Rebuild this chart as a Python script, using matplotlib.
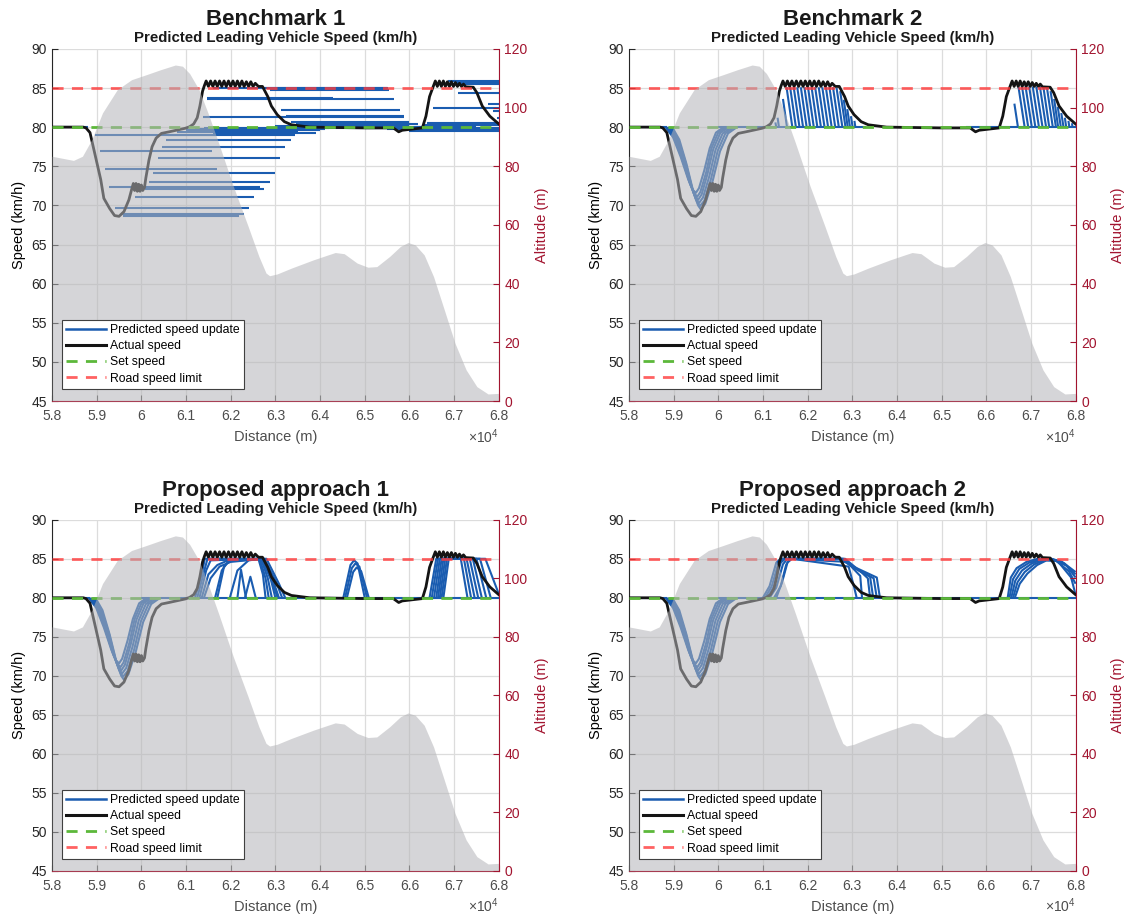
import matplotlib.pyplot as plt
from matplotlib.lines import Line2D

plt.rcParams['font.family'] = ['Liberation Sans', 'DejaVu Sans']
plt.rcParams['mathtext.default'] = 'regular'

# distance is in units of 10^4 m (axis shows x10^4)
alt_x = [5.800, 5.848, 5.868, 5.889, 5.913, 5.946, 5.978, 6.011, 6.043, 6.076, 6.092,
         6.108, 6.129, 6.149, 6.173, 6.206, 6.239, 6.263, 6.279, 6.287, 6.304, 6.336,
         6.385, 6.418, 6.434, 6.454, 6.483, 6.507, 6.527, 6.556, 6.580, 6.597, 6.613,
         6.633, 6.654, 6.678, 6.702, 6.727, 6.751, 6.776, 6.800]
alt_h = [83.4, 82.0, 83.4, 89.1, 98.2, 106.1, 109.5, 111.2, 112.9, 114.5, 114.1,
         111.6, 106.1, 98.2, 87.9, 73.1, 59.5, 49.3, 43.6, 42.7, 43.3, 45.3,
         48.1, 49.8, 50.6, 50.2, 47.0, 45.6, 45.8, 49.3, 52.7, 54.0, 53.2,
         49.8, 42.4, 31.1, 19.7, 10.6, 4.9, 2.4, 2.6]

act_x = [5.800, 5.870, 5.876, 5.885, 5.897, 5.909, 5.916, 5.922, 5.929, 5.940, 5.950, 5.961, 5.972, 5.979,
         5.982, 5.985, 5.988, 5.991, 5.994, 5.997, 6.000, 6.003, 6.007, 6.010, 6.017, 6.024, 6.033,
         6.045, 6.062, 6.098, 6.108, 6.117, 6.125, 6.131, 6.137, 6.141,
         6.145, 6.150, 6.155, 6.160, 6.165, 6.170, 6.175, 6.180, 6.185, 6.190, 6.195, 6.200,
         6.205, 6.210, 6.215, 6.220, 6.225, 6.230, 6.235, 6.240, 6.245, 6.250, 6.255, 6.262,
         6.271, 6.283, 6.291, 6.304, 6.320, 6.336, 6.377, 6.499, 6.564, 6.576, 6.584, 6.629,
         6.637, 6.645, 6.654,
         6.658, 6.6625, 6.667, 6.6715, 6.676, 6.6805, 6.685, 6.6895, 6.694, 6.6985, 6.703,
         6.7075, 6.712, 6.7165, 6.721, 6.726,
         6.743, 6.751, 6.763, 6.780, 6.800]
act_v = [80.0, 80.0, 79.9, 79.3, 76.3, 73.3, 70.9, 70.3, 69.6, 68.7, 68.6, 69.2, 70.7, 72.2,
         72.8, 71.9, 72.8, 71.8, 72.7, 71.8, 72.6, 71.9, 72.3, 73.5, 75.8, 77.5, 78.6,
         79.2, 79.4, 79.85, 80.05, 80.4, 81.2, 82.7, 84.6, 85.3,
         85.9, 85.2, 85.9, 85.2, 85.9, 85.2, 85.9, 85.2, 85.9, 85.2, 85.9, 85.2,
         85.9, 85.2, 85.9, 85.2, 85.9, 85.2, 85.8, 85.2, 85.8, 85.2, 85.6, 85.2,
         85.2, 83.9, 82.7, 81.6, 80.7, 80.3, 80.0, 79.9, 79.9, 79.4, 79.6, 79.9,
         81.4, 83.9, 85.3,
         85.9, 85.2, 85.9, 85.2, 85.9, 85.2, 85.8, 85.2, 85.8, 85.2, 85.7,
         85.2, 85.6, 85.2, 85.5, 85.15,
         85.1, 84.4, 82.7, 81.4, 80.4]

set_speed = 80
speed_limit = 85

xticks = [5.8, 5.9, 6.0, 6.1, 6.2, 6.3, 6.4, 6.5, 6.6, 6.7, 6.8]
yticks = [45, 50, 55, 60, 65, 70, 75, 80, 85, 90]
alt_ticks = [0, 20, 40, 60, 80, 100, 120]

titles = ['Benchmark 1', 'Benchmark 2', 'Proposed approach 1', 'Proposed approach 2']
subtitle = 'Predicted Leading Vehicle Speed (km/h)'

# Benchmark 1: constant-speed predictions (start, end, speed)
b1_start = [5.800, 5.897, 5.907, 5.919, 5.928, 5.942, 5.955, 5.958, 5.986, 6.007, 6.017,
            6.025, 6.037, 6.047, 6.055, 6.060, 6.080, 6.100, 6.120, 6.140, 6.160, 6.137,
            6.324, 6.312, 6.147, 6.147, 6.288, 6.160, 6.265, 6.336, 6.345, 6.300, 6.350,
            6.400, 6.450, 6.500, 6.550, 6.600, 6.630, 6.640, 6.655, 6.686, 6.700, 6.708,
            6.653, 6.776, 6.788, 6.796]
b1_end = [5.880, 6.169, 6.157, 6.169, 6.265, 6.240, 6.229, 6.218, 6.252, 6.275, 6.288,
          6.300, 6.311, 6.322, 6.334, 6.344, 6.350, 6.400, 6.410, 6.420, 6.390, 6.588,
          6.588, 6.578, 6.566, 6.430, 6.554, 6.550, 6.552, 6.600, 6.620, 6.600, 6.650,
          6.700, 6.750, 6.800, 6.800, 6.800, 6.800, 6.800, 6.800, 6.800, 6.800, 6.800,
          6.800, 6.800, 6.800, 6.800]
b1_speed = [80.0, 78.95, 76.95, 74.7, 72.4, 69.7, 68.9, 68.6, 71.1, 72.1, 73.0,
            74.2, 76.1, 77.5, 78.4, 79.0, 79.4, 79.6, 79.8, 79.95, 79.3, 81.25,
            81.45, 82.2, 83.6, 83.75, 84.8, 85.05, 84.95, 80.7, 80.45, 80.1, 80.0,
            79.9, 80.05, 79.95, 79.7, 79.45, 80.3, 80.5, 85.5, 85.9, 85.7, 84.3,
            82.5, 82.9, 82.1, 81.2]

# predicted dips around 5.9-6.0 (Benchmark 2 and both proposed approaches)
dip_curves = [
    ([5.882, 5.899, 5.916, 5.933, 5.943, 5.950, 5.957, 5.969, 5.981, 5.995, 6.012],
     [80, 78.7, 76.2, 73.3, 72.0, 71.6, 72.2, 74.5, 77.3, 79.3, 80]),
    ([5.885, 5.902, 5.919, 5.936, 5.946, 5.953, 5.960, 5.973, 5.985, 6.000, 6.018],
     [80, 78.7, 76.0, 72.9, 71.6, 71.1, 71.7, 74.2, 77.3, 79.3, 80]),
    ([5.888, 5.905, 5.922, 5.938, 5.948, 5.955, 5.963, 5.976, 5.989, 6.005, 6.024],
     [80, 78.6, 75.8, 72.6, 71.2, 70.7, 71.4, 74.0, 77.2, 79.3, 80]),
    ([5.891, 5.908, 5.924, 5.941, 5.950, 5.957, 5.966, 5.980, 5.994, 6.010, 6.030],
     [80, 78.5, 75.6, 72.3, 70.8, 70.3, 71.0, 73.7, 77.1, 79.2, 80]),
    ([5.894, 5.910, 5.927, 5.943, 5.953, 5.959, 5.969, 5.984, 5.999, 6.016, 6.036],
     [80, 78.5, 75.5, 71.9, 70.4, 69.9, 70.6, 73.4, 77.0, 79.2, 80]),
    ([5.897, 5.913, 5.929, 5.945, 5.955, 5.961, 5.971, 5.988, 6.004, 6.022, 6.042],
     [80, 78.4, 75.3, 71.6, 70.0, 69.5, 70.2, 73.2, 76.9, 79.2, 80]),
]

# Benchmark 2: slanted predictions back to set speed (x0, v0) -> (x1, 80)
b2_x0 = [6.128, 6.133, 6.145, 6.153, 6.161, 6.169, 6.177, 6.185, 6.193, 6.201, 6.209,
         6.217, 6.225, 6.233, 6.241, 6.249, 6.257, 6.265, 6.273, 6.281, 6.289, 6.297, 6.305,
         6.663, 6.672, 6.680, 6.688, 6.696, 6.704, 6.712, 6.720, 6.728, 6.736, 6.744,
         6.752, 6.760, 6.768, 6.776, 6.784, 6.792]
b2_v0 = [80.6, 81.2, 83.6, 85.1, 85.1, 85.1, 85.1, 85.1, 85.1, 85.1, 85.1,
         85.1, 85.1, 85.1, 85.1, 85.1, 85.1, 85.0, 84.6, 83.5, 82.3, 81.4, 80.8,
         83.0, 85.2, 85.2, 85.2, 85.2, 85.2, 85.2, 85.2, 85.1, 85.0, 84.6,
         83.6, 82.6, 81.8, 81.2, 80.8, 80.5]
b2_x1 = [6.130, 6.136, 6.154, 6.166, 6.174, 6.182, 6.190, 6.198, 6.206, 6.214, 6.222,
         6.230, 6.238, 6.246, 6.254, 6.262, 6.270, 6.278, 6.285, 6.290, 6.295, 6.301, 6.307,
         6.671, 6.686, 6.694, 6.702, 6.710, 6.718, 6.726, 6.734, 6.741, 6.749, 6.756,
         6.761, 6.767, 6.773, 6.779, 6.786, 6.793]
b2_flat = [(5.800, 5.885), (6.000, 6.330), (6.555, 6.800)]

p1_curves = [
    ([6.120, 6.135, 6.142, 6.262, 6.272, 6.278], [80, 83.0, 85.0, 85.0, 83.0, 80]),
    ([6.125, 6.140, 6.148, 6.265, 6.278, 6.285], [80, 83.3, 85.0, 85.0, 82.5, 80]),
    ([6.130, 6.145, 6.155, 6.268, 6.283, 6.292], [80, 83.5, 84.8, 85.0, 82.5, 80]),
    ([6.135, 6.150, 6.170, 6.190, 6.270, 6.290, 6.300], [80, 83.0, 84.2, 84.7, 85.0, 82.3, 80]),
    ([6.140, 6.155, 6.175, 6.200, 6.272, 6.296, 6.308], [80, 82.5, 84.0, 84.6, 85.0, 82.0, 80]),
    ([6.165, 6.180, 6.195, 6.275, 6.302, 6.315], [80, 83.5, 84.7, 85.0, 82.0, 80]),
    ([6.170, 6.185, 6.200, 6.280, 6.308, 6.322], [80, 84.0, 84.9, 85.0, 81.8, 80]),
    ([6.198, 6.215, 6.240, 6.270, 6.290, 6.305], [80, 83.5, 84.8, 85.0, 82.5, 80]),
    ([6.215, 6.223, 6.234], [80, 83.6, 80]),
    ([6.232, 6.244, 6.256], [80, 82.7, 80]),
    ([6.452, 6.468, 6.476, 6.484, 6.500], [80, 84.2, 84.8, 84.4, 80]),
    ([6.456, 6.471, 6.479, 6.488, 6.505], [80, 83.8, 84.4, 84.0, 80]),
    ([6.460, 6.474, 6.482, 6.492, 6.509], [80, 83.3, 83.9, 83.4, 80]),
    ([6.645, 6.660, 6.715, 6.730], [80, 85, 85, 80]),
    ([6.650, 6.664, 6.722, 6.738], [80, 85, 85, 80]),
    ([6.655, 6.668, 6.728, 6.746], [80, 85, 85, 80]),
    ([6.660, 6.672, 6.735, 6.754], [80, 85, 85, 80]),
    ([6.664, 6.676, 6.742, 6.762], [80, 85, 85, 80]),
    ([6.668, 6.680, 6.750, 6.772], [80, 85, 85, 80]),
    ([6.672, 6.684, 6.758, 6.782], [80, 85, 85, 80]),
    ([6.676, 6.688, 6.770, 6.800], [80, 85, 85, 80.5]),
]
p1_flat = [(5.800, 5.885), (6.000, 6.800)]

p2_curves = [
    ([6.100, 6.115, 6.130, 6.140, 6.272, 6.295, 6.355, 6.362], [80, 81.5, 84.5, 85, 85, 84.2, 82.6, 80]),
    ([6.105, 6.120, 6.135, 6.145, 6.276, 6.300, 6.348, 6.355], [80, 81.5, 84.5, 85, 85, 84.0, 82.5, 80]),
    ([6.110, 6.125, 6.140, 6.150, 6.280, 6.305, 6.340, 6.347], [80, 81.5, 84.5, 85, 85, 83.8, 82.7, 80]),
    ([6.115, 6.130, 6.145, 6.155, 6.284, 6.322, 6.335, 6.340], [80, 81.3, 84.3, 85, 85, 83.2, 82.5, 80]),
    ([6.125, 6.140, 6.152, 6.160, 6.288, 6.318, 6.322], [80, 81.5, 84.2, 85, 84.6, 82.8, 80]),
    ([6.130, 6.143, 6.155, 6.165, 6.292, 6.305, 6.310], [80, 82.0, 84.5, 85, 84.0, 81.2, 80]),
    ([6.648, 6.655, 6.668, 6.690, 6.715, 6.740, 6.770, 6.800], [80, 82.6, 83.8, 84.6, 85.0, 85.1, 84.6, 83.3]),
    ([6.652, 6.660, 6.674, 6.696, 6.720, 6.745, 6.775, 6.800], [80, 82.4, 83.7, 84.5, 84.9, 85.0, 84.4, 83.0]),
    ([6.656, 6.665, 6.680, 6.702, 6.726, 6.750, 6.780, 6.800], [80, 82.2, 83.5, 84.4, 84.9, 84.9, 84.1, 82.6]),
    ([6.660, 6.670, 6.686, 6.708, 6.730, 6.755, 6.785, 6.800], [80, 82.0, 83.3, 84.3, 84.8, 84.8, 83.4, 81.8]),
    ([6.664, 6.675, 6.692, 6.714, 6.735, 6.760, 6.790, 6.800], [80, 81.8, 83.1, 84.2, 84.8, 84.7, 82.6, 80.4]),
]
p2_flat = [(5.800, 5.885), (6.000, 6.800)]

blue = '#1a5cb0'
green = '#5cb83a'
red_line = '#ff3b3b'
dark_red = '#a2142f'
txt = '#262626'
xtxt = '#4d4d4d'


def pred(ax, x, y):
    ax.plot(x, y, color=blue, lw=1.5, zorder=2, solid_capstyle='butt')


def draw_b1(ax):
    ax.hlines(b1_speed, b1_start, b1_end, colors=blue, lw=1.5, zorder=2)


def draw_b2(ax):
    for x, y in dip_curves:
        pred(ax, x, y)
    for x0, v0, x1 in zip(b2_x0, b2_v0, b2_x1):
        pred(ax, [x0, x1], [v0, set_speed])
    for s, e in b2_flat:
        pred(ax, [s, e], [set_speed, set_speed])


def draw_p1(ax):
    for x, y in dip_curves + p1_curves:
        pred(ax, x, y)
    for s, e in p1_flat:
        pred(ax, [s, e], [set_speed, set_speed])


def draw_p2(ax):
    for x, y in dip_curves + p2_curves:
        pred(ax, x, y)
    for s, e in p2_flat:
        pred(ax, [s, e], [set_speed, set_speed])


fig = plt.figure(figsize=(11.31, 9.17), dpi=100)
rects = [[0.046, 0.5627, 0.395, 0.384], [0.556, 0.5627, 0.395, 0.384],
         [0.046, 0.0502, 0.395, 0.383], [0.556, 0.0502, 0.395, 0.383]]
drawers = [draw_b1, draw_b2, draw_p1, draw_p2]

for rect, title, draw in zip(rects, titles, drawers):
    ax = fig.add_axes(rect)
    draw(ax)
    ax.plot(act_x, act_v, color='#141414', lw=2.0, zorder=3)
    ax.axhline(set_speed, color=green, lw=2, ls=(0, (4, 3)), zorder=4)
    ax.axhline(speed_limit, color=red_line, alpha=0.8, lw=2, ls=(0, (4, 3)), zorder=5)

    ax.set_xlim(5.8, 6.8)
    ax.set_ylim(45, 90)
    ax.set_xticks(xticks)
    ax.set_xticklabels(['%g' % t for t in xticks])
    ax.set_yticks(yticks)
    ax.grid(True, color='#dcdcdc', lw=0.9)
    ax.set_axisbelow(True)
    ax.tick_params(direction='in', length=4, labelsize=10)
    ax.tick_params(axis='x', pad=5.5, colors=xtxt)
    ax.tick_params(axis='y', pad=3.5, colors=txt)
    ax.spines['top'].set_visible(False)
    ax.spines['right'].set_visible(False)
    ax.spines['left'].set_color(txt)
    ax.spines['bottom'].set_color(dark_red)
    ax.set_xlabel('Distance (m)', fontsize=10.5, color=xtxt, labelpad=5)
    ax.set_ylabel('Speed (km/h)', fontsize=10.5, color='black', labelpad=4)

    ax2 = ax.twinx()
    ax2.fill_between(alt_x, 0, alt_h, color='#b4b4b8', alpha=0.55, lw=0)
    ax2.set_ylim(0, 120)
    ax2.set_yticks(alt_ticks)
    ax2.tick_params(axis='y', direction='in', length=4, labelsize=10, colors=dark_red, pad=4)
    for side in ['top', 'left', 'bottom']:
        ax2.spines[side].set_visible(False)
    ax2.spines['right'].set_color(dark_red)
    ax2.set_ylabel('Altitude (m)', fontsize=10.5, color=dark_red, labelpad=5)

    ax.text(0.5, 1.068, title, transform=ax.transAxes, ha='center', va='baseline',
            fontsize=16, fontweight='bold', color='#1a1a1a')
    ax.text(0.5, 1.02, subtitle, transform=ax.transAxes, ha='center', va='baseline',
            fontsize=10.8, fontweight='bold', color='#1a1a1a')
    ax.text(1.0, -0.118, r'$\times10^{4}$', transform=ax.transAxes, ha='right',
            va='baseline', fontsize=10, color=xtxt)

    handles = [Line2D([], [], color=blue, lw=1.8),
               Line2D([], [], color='#141414', lw=2.2),
               Line2D([], [], color=green, lw=2, ls=(0, (4, 3))),
               Line2D([], [], color=red_line, alpha=0.8, lw=2, ls=(0, (4, 3)))]
    labels = ['Predicted speed update', 'Actual speed', 'Set speed', 'Road speed limit']
    leg = ax2.legend(handles, labels, loc='lower left', bbox_to_anchor=(0.022, 0.034),
                     borderaxespad=0, fontsize=8.8, frameon=True, fancybox=False,
                     framealpha=1, edgecolor='#404040', handlelength=3.3,
                     handletextpad=0.3, labelspacing=0.35, borderpad=0.35)
    leg.get_frame().set_linewidth(0.8)

fig.savefig('out.png', dpi=100)
